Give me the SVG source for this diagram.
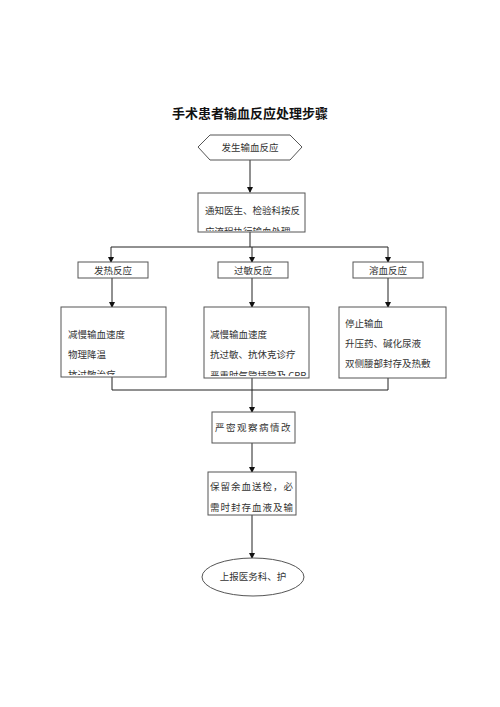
<svg xmlns="http://www.w3.org/2000/svg" width="500" height="707" viewBox="0 0 500 707">
<style>
.t{font-family:"Noto Sans CJK SC","Liberation Serif",sans-serif;font-size:9.5px;fill:#333}
.n{fill:#fff;stroke:#555;stroke-width:1}
.c{fill:none;stroke:#222;stroke-width:1}
</style>
<defs>
<marker id="ar" markerWidth="6" markerHeight="6" refX="5" refY="3" orient="auto" markerUnits="userSpaceOnUse">
<path d="M0,0 L6,3 L0,6 Z" fill="#111"/>
</marker>
<clipPath id="cb2"><rect x="198" y="193" width="107" height="38"/></clipPath>
<clipPath id="cb4"><rect x="61" y="307" width="105" height="68"/></clipPath>
<clipPath id="cb5"><rect x="204" y="307" width="105" height="69"/></clipPath>
</defs>
<rect width="500" height="707" fill="#fff"/>
<text x="250" y="118" text-anchor="middle" style="font-family:'Noto Sans CJK SC',sans-serif;font-size:13px;font-weight:bold;fill:#111">手术患者输血反应处理步骤</text>
<g id="connectors">
<line class="c" x1="250" y1="160" x2="250" y2="192" marker-end="url(#ar)"/>
<polyline class="c" points="250,232 250,247"/>
<line class="c" x1="111" y1="247" x2="388" y2="247"/>
<line class="c" x1="111" y1="247" x2="111" y2="262" marker-end="url(#ar)"/>
<line class="c" x1="252" y1="247" x2="252" y2="262" marker-end="url(#ar)"/>
<line class="c" x1="388" y1="247" x2="388" y2="262" marker-end="url(#ar)"/>
<line class="c" x1="112" y1="278" x2="112" y2="307" marker-end="url(#ar)"/>
<line class="c" x1="252" y1="278" x2="252" y2="307" marker-end="url(#ar)"/>
<line class="c" x1="388" y1="278" x2="388" y2="307" marker-end="url(#ar)"/>
<line class="c" x1="112" y1="377" x2="112" y2="390"/>
<line class="c" x1="252" y1="378" x2="252" y2="390"/>
<line class="c" x1="388" y1="378" x2="388" y2="390"/>
<line class="c" x1="112" y1="390" x2="388" y2="390"/>
<line class="c" x1="252" y1="390" x2="252" y2="412" marker-end="url(#ar)"/>
<line class="c" x1="252" y1="443" x2="252" y2="472" marker-end="url(#ar)"/>
<line class="c" x1="252" y1="515" x2="252" y2="558" marker-end="url(#ar)"/>
</g>
<g id="n1"><polygon class="n" points="198,147 210,135 290,135 302,147 290,160 210,160"/><text class="t" x="250" y="151" text-anchor="middle">发生输血反应</text></g>
<g id="n2"><rect class="n" x="198" y="193" width="107" height="39"/><g clip-path="url(#cb2)"><text class="t" x="205" y="214">通知医生、检验科按反</text><text class="t" x="205" y="235">应流程执行输血处理</text></g></g>
<g id="n3"><rect class="n" x="78" y="262" width="70" height="16"/><text class="t" x="113" y="273.5" text-anchor="middle">发热反应</text></g>
<g id="n4"><rect class="n" x="218" y="262" width="70" height="16"/><text class="t" x="253" y="273.5" text-anchor="middle">过敏反应</text></g>
<g id="n5"><rect class="n" x="353" y="262" width="70" height="16"/><text class="t" x="388" y="273.5" text-anchor="middle">溶血反应</text></g>
<g id="n6"><rect class="n" x="61" y="307" width="105" height="70"/><g clip-path="url(#cb4)"><text class="t" x="68" y="338">减慢输血速度</text><text class="t" x="68" y="358">物理降温</text><text class="t" x="68" y="378">抗过敏治疗</text></g></g>
<g id="n7"><rect class="n" x="204" y="307" width="105" height="71"/><g clip-path="url(#cb5)"><text class="t" x="210" y="338">减慢输血速度</text><text class="t" x="210" y="358">抗过敏、抗休克诊疗</text><text class="t" x="210" y="379">严重时气管插管及 CPR</text></g></g>
<g id="n8"><rect class="n" x="339" y="307" width="107" height="71"/><text class="t" x="345" y="327">停止输血</text><text class="t" x="345" y="347">升压药、碱化尿液</text><text class="t" x="345" y="367">双侧腰部封存及热敷</text></g>
<g id="n9"><rect class="n" x="212" y="412" width="83" height="31"/><text class="t" x="253.5" y="431" text-anchor="middle" letter-spacing="1.5">严密观察病情改</text></g>
<g id="n10"><rect class="n" x="208" y="472" width="88" height="43"/><text class="t" x="252" y="490" text-anchor="middle" letter-spacing="1">保留余血送检，必</text><text class="t" x="252" y="511" text-anchor="middle" letter-spacing="1">需时封存血液及输</text></g>
<g id="n11"><ellipse class="n" cx="253" cy="577" rx="51" ry="19"/><text class="t" x="253" y="580" text-anchor="middle">上报医务科、护</text></g>
</svg>
